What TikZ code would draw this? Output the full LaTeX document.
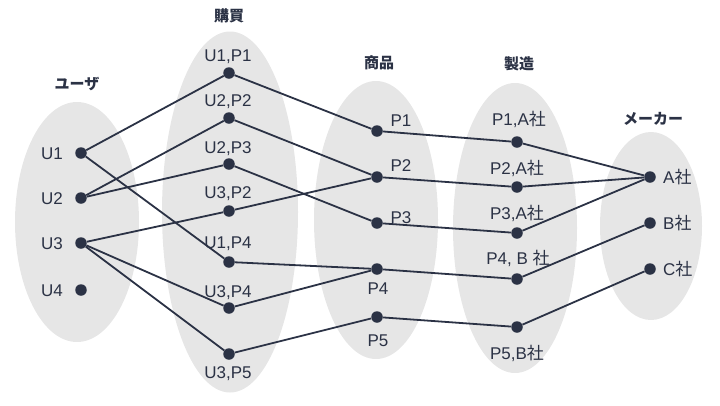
\documentclass[tikz,border=0pt]{standalone}
\usepackage{fontspec}
\setmainfont{Liberation Sans}
\newfontfamily\cjk{Noto Sans CJK JP}
\usetikzlibrary{shapes.geometric}
\definecolor{ink}{RGB}{43,50,69}
\definecolor{blob}{RGB}{230,230,230}
\newcommand{\sha}{{\cjk 社}}
\begin{document}
\begin{tikzpicture}[x=1pt,y=-1pt,
  grp/.style={ellipse,fill=blob,draw=none,inner sep=0},
  dot/.style={circle,fill=ink,inner sep=0,minimum size=11.5pt},
  lbl/.style={text=ink,font=\fontsize{17}{17}\selectfont,inner sep=0,text height=12.2pt,text depth=0pt},
  ttl/.style={text=ink,font=\cjk\bfseries\fontsize{15}{15}\selectfont,inner sep=0,text height=11.4pt,text depth=0pt},
  link/.style={draw=ink,line width=1.8pt}]
\useasboundingbox (0,0) rectangle (720,405);
% groups
\node[grp,minimum width=124pt,minimum height=240pt] (gU) at (77,222) {};
\node[grp,minimum width=136pt,minimum height=361pt] (gB) at (230,212) {};
\node[grp,minimum width=124pt,minimum height=278pt] (gP) at (376,220) {};
\node[grp,minimum width=124pt,minimum height=290pt] (gM) at (515,228) {};
\node[grp,minimum width=102pt,minimum height=188pt] (gK) at (651,226) {};
% titles
\node[ttl] (tU) at (77,84) {ユーザ};
\node[ttl] (tB) at (229,16) {購買};
\node[ttl] (tP) at (379,63) {商品};
\node[ttl] (tM) at (519,64) {製造};
\node[ttl] (tK) at (653,119) {メーカー};
% users
\node[dot] (U1) at (81,153) {};
\node[dot] (U2) at (81,198) {};
\node[dot] (U3) at (81,243) {};
\node[dot] (U4) at (81,290) {};
\node[lbl] (lU1) at (52,153) {U1};
\node[lbl] (lU2) at (52,198) {U2};
\node[lbl] (lU3) at (52,243) {U3};
\node[lbl] (lU4) at (52,290) {U4};
% purchases
\node[dot] (B1) at (229,73) {};
\node[dot] (B2) at (229,118) {};
\node[dot] (B3) at (229,164) {};
\node[dot] (B4) at (229,211) {};
\node[dot] (B5) at (229,262) {};
\node[dot] (B6) at (229,308) {};
\node[dot] (B7) at (229,354) {};
\node[lbl] (lB1) at (228,55) {U1,P1};
\node[lbl] (lB2) at (228,100) {U2,P2};
\node[lbl] (lB3) at (228,147) {U2,P3};
\node[lbl] (lB4) at (228,192) {U3,P2};
\node[lbl] (lB5) at (228,242) {U1,P4};
\node[lbl] (lB6) at (228,291) {U3,P4};
\node[lbl] (lB7) at (228,372) {U3,P5};
% products
\node[dot] (P1) at (377,131) {};
\node[dot] (P2) at (377,177) {};
\node[dot] (P3) at (377,223) {};
\node[dot] (P4) at (377,269) {};
\node[dot] (P5) at (377,317) {};
\node[lbl] (lP1) at (401,120) {P1};
\node[lbl] (lP2) at (401,165) {P2};
\node[lbl] (lP3) at (401,217) {P3};
\node[lbl] (lP4) at (378,288) {P4};
\node[lbl] (lP5) at (378,340) {P5};
% manufacturing
\node[dot] (M1) at (517,142) {};
\node[dot] (M2) at (517,187) {};
\node[dot] (M3) at (517,233) {};
\node[dot] (M4) at (517,279) {};
\node[dot] (M5) at (517,327) {};
\node[lbl] (lM1) at (519,119) {P1,A\sha};
\node[lbl] (lM2) at (517,168) {P2,A\sha};
\node[lbl] (lM3) at (517,213) {P3,A\sha};
\node[lbl] (lM4) at (518,258) {P4, B \sha};
\node[lbl] (lM5) at (517,353) {P5,B\sha};
% makers
\node[dot] (KA) at (650,177) {};
\node[dot] (KB) at (650,223) {};
\node[dot] (KC) at (650,269) {};
\node[lbl,anchor=west] (lKA) at (663,177) {A\sha};
\node[lbl,anchor=west] (lKB) at (663,223) {B\sha};
\node[lbl,anchor=west] (lKC) at (663,269) {C\sha};
% links
\draw[link] (U1) -- (B1);
\draw[link] (U1) -- (B5);
\draw[link] (U2) -- (B2);
\draw[link] (U2) -- (B3);
\draw[link] (U3) -- (B4);
\draw[link] (U3) -- (B6);
\draw[link] (U3) -- (B7);
\draw[link] (B1) -- (P1);
\draw[link] (B2) -- (P2);
\draw[link] (B4) -- (P2);
\draw[link] (B3) -- (P3);
\draw[link] (B5) -- (P4);
\draw[link] (B6) -- (P4);
\draw[link] (B7) -- (P5);
\draw[link] (P1) -- (M1);
\draw[link] (P2) -- (M2);
\draw[link] (P3) -- (M3);
\draw[link] (P4) -- (M4);
\draw[link] (P5) -- (M5);
\draw[link] (M1) -- (KA);
\draw[link] (M2) -- (KA);
\draw[link] (M3) -- (KA);
\draw[link] (M4) -- (KB);
\draw[link] (M5) -- (KC);
\end{tikzpicture}
\end{document}
